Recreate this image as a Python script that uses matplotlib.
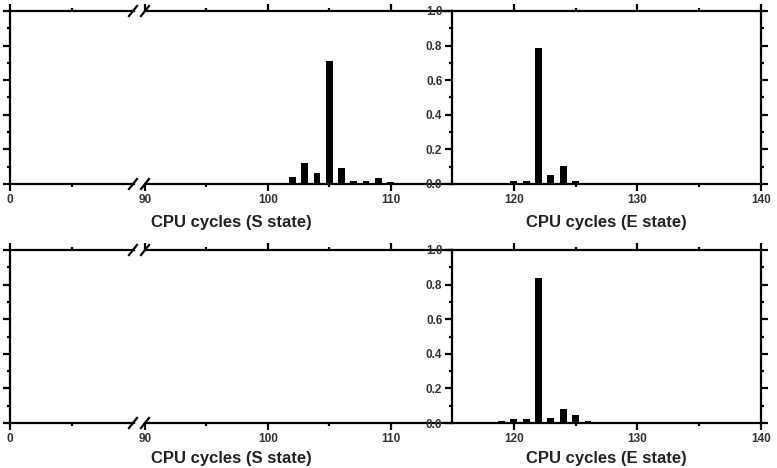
import numpy as np
import matplotlib
matplotlib.use("Agg")
import matplotlib.pyplot as plt
from matplotlib.lines import Line2D
from matplotlib.ticker import MultipleLocator, FixedLocator

plt.rcParams['font.family'] = ['Liberation Sans', 'DejaVu Sans']

# data
s_top_x = [102, 103, 104, 105, 106, 107, 108, 109, 110, 111]
s_top_y = [0.039, 0.122, 0.062, 0.709, 0.093, 0.017, 0.015, 0.037, 0.010, 0.008]
e_top_x = [118, 119, 120, 121, 122, 123, 124, 125]
e_top_y = [0.004, 0.006, 0.020, 0.018, 0.786, 0.054, 0.103, 0.017]

s_bot_x = []
s_bot_y = []
e_bot_x = [119, 120, 121, 122, 123, 124, 125, 126]
e_bot_y = [0.010, 0.021, 0.021, 0.840, 0.029, 0.079, 0.048, 0.012]

rows = [(s_top_x, s_top_y, e_top_x, e_top_y),
        (s_bot_x, s_bot_y, e_bot_x, e_bot_y)]

W, H = 777, 468
fig = plt.figure(figsize=(W / 100, H / 100), dpi=100)

lw = 1.6


def px_box(x0, x1, ytop, ybot):
    return [x0 / W, 1 - ybot / H, (x1 - x0) / W, (ybot - ytop) / H]


def style(ax, left_spine, right_spine, majors, minors):
    for s in ax.spines.values():
        s.set_linewidth(lw)
    ax.spines['left'].set_visible(left_spine)
    ax.spines['right'].set_visible(right_spine)
    ax.set_ylim(0, 1.0)
    ax.yaxis.set_major_locator(MultipleLocator(0.2))
    ax.yaxis.set_minor_locator(MultipleLocator(0.1))
    ax.xaxis.set_major_locator(FixedLocator(majors))
    ax.xaxis.set_minor_locator(FixedLocator(minors))
    ax.tick_params(which='both', direction='out', top=True, bottom=True,
                   width=lw, labelsize=8.5, pad=2)
    ax.tick_params(which='major', length=5)
    ax.tick_params(which='minor', length=2.5)
    ax.tick_params(axis='x', which='both', labeltop=False)
    ax.tick_params(axis='y', which='both', left=left_spine, right=right_spine,
                   labelleft=False, labelright=False)


def bold_labels(ax):
    for lab in ax.get_xticklabels() + ax.get_yticklabels():
        lab.set_fontweight('bold')
        lab.set_color('#333333')


def slash(xc, yc):
    fig.add_artist(Line2D([(xc - 4) / W, (xc + 4) / W],
                          [1 - (yc + 5) / H, 1 - (yc - 5) / H],
                          transform=fig.transFigure, color='black', lw=1.6))


row_y = [(11, 184), (250, 423)]
label_y = [222, 459]

for (sx, sy, ex, ey), (yt, yb), ly in zip(rows, row_y, label_y):
    # left piece before the break
    ax_a = fig.add_axes(px_box(10, 133.6, yt, yb))
    ax_a.set_xlim(0, 10)
    style(ax_a, True, False, [0], [5])
    bold_labels(ax_a)

    # S state piece after the break
    ax_b = fig.add_axes(px_box(145, 452, yt, yb))
    ax_b.set_xlim(90, 115)
    style(ax_b, False, False, [90, 100, 110], [95, 105])
    if sx:
        ax_b.bar(sx, sy, width=0.55, color='black')
    bold_labels(ax_b)

    # E state panel
    ax_c = fig.add_axes(px_box(452, 761, yt, yb))
    ax_c.set_xlim(115, 140)
    style(ax_c, True, True, [120, 130, 140], [125, 135])
    ax_c.tick_params(axis='y', labelleft=True)
    ax_c.bar(ex, ey, width=0.55, color='black')
    bold_labels(ax_c)

    # axis break marks
    for yy in (yt, yb):
        slash(133, yy)
        slash(145, yy)

    fig.text(231 / W, 1 - ly / H, 'CPU cycles (S state)', ha='center',
             va='center', fontsize=12, fontweight='bold', color='#222222')
    fig.text(606 / W, 1 - ly / H, 'CPU cycles (E state)', ha='center',
             va='center', fontsize=12, fontweight='bold', color='#222222')

fig.savefig('out.png', dpi=100)
